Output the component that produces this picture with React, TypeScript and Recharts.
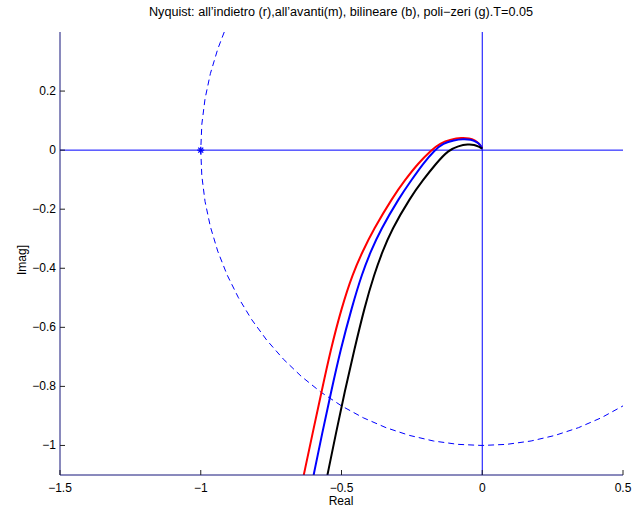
import { ComposedChart, Line, Scatter, XAxis, YAxis, ReferenceLine } from 'recharts';

const redCurve = [
  { x: -0.634, y: -1.1 }, { x: -0.603, y: -0.96 }, { x: -0.571, y: -0.819 }, { x: -0.539, y: -0.678 },
  { x: -0.499, y: -0.531 }, { x: -0.46, y: -0.418 }, { x: -0.426, y: -0.345 }, { x: -0.388, y: -0.271 },
  { x: -0.317, y: -0.158 }, { x: -0.275, y: -0.102 }, { x: -0.228, y: -0.045 }, { x: -0.181, y: 0 },
  { x: -0.151, y: 0.023 }, { x: -0.11, y: 0.037 }, { x: -0.074, y: 0.042 }, { x: -0.045, y: 0.04 },
  { x: -0.027, y: 0.034 }, { x: -0.01, y: 0.022 }, { x: 0, y: 0.006 },
];
const blueCurve = [
  { x: -0.599, y: -1.1 }, { x: -0.569, y: -0.96 }, { x: -0.537, y: -0.819 }, { x: -0.504, y: -0.678 },
  { x: -0.463, y: -0.531 }, { x: -0.427, y: -0.418 }, { x: -0.397, y: -0.345 }, { x: -0.362, y: -0.271 },
  { x: -0.293, y: -0.158 }, { x: -0.252, y: -0.102 }, { x: -0.21, y: -0.045 }, { x: -0.169, y: 0 },
  { x: -0.139, y: 0.023 }, { x: -0.1, y: 0.034 }, { x: -0.068, y: 0.038 }, { x: -0.04, y: 0.036 },
  { x: -0.021, y: 0.028 }, { x: -0.007, y: 0.018 }, { x: 0, y: 0.005 },
];
const blackCurve = [
  { x: -0.55, y: -1.1 }, { x: -0.52, y: -0.96 }, { x: -0.489, y: -0.819 }, { x: -0.455, y: -0.678 },
  { x: -0.418, y: -0.531 }, { x: -0.383, y: -0.418 }, { x: -0.355, y: -0.345 }, { x: -0.323, y: -0.271 },
  { x: -0.254, y: -0.158 }, { x: -0.211, y: -0.102 }, { x: -0.164, y: -0.045 }, { x: -0.12, y: 0 },
  { x: -0.085, y: 0.014 }, { x: -0.05, y: 0.02 }, { x: -0.028, y: 0.018 }, { x: -0.012, y: 0.012 },
  { x: 0, y: 0.005 },
];
// unit circle, visible part
const unitCircle = [
  { x: -0.9165, y: 0.4 }, { x: -0.9397, y: 0.342 }, { x: -0.9659, y: 0.2588 }, { x: -0.9848, y: 0.1736 },
  { x: -0.9962, y: 0.0872 }, { x: -1, y: 0 }, { x: -0.9962, y: -0.0872 }, { x: -0.9848, y: -0.1736 },
  { x: -0.9659, y: -0.2588 }, { x: -0.9397, y: -0.342 }, { x: -0.9063, y: -0.4226 }, { x: -0.866, y: -0.5 },
  { x: -0.8192, y: -0.5736 }, { x: -0.766, y: -0.6428 }, { x: -0.7071, y: -0.7071 }, { x: -0.6428, y: -0.766 },
  { x: -0.5736, y: -0.8192 }, { x: -0.5, y: -0.866 }, { x: -0.4226, y: -0.9063 }, { x: -0.342, y: -0.9397 },
  { x: -0.2588, y: -0.9659 }, { x: -0.1736, y: -0.9848 }, { x: -0.0872, y: -0.9962 }, { x: 0, y: -1 },
  { x: 0.0872, y: -0.9962 }, { x: 0.1736, y: -0.9848 }, { x: 0.2588, y: -0.9659 }, { x: 0.342, y: -0.9397 },
  { x: 0.4226, y: -0.9063 }, { x: 0.5, y: -0.866 },
];
const criticalPoint = [{ x: -1, y: 0 }];

const xTicks = [-1.5, -1, -0.5, 0, 0.5];
const yTicks = [-1, -0.8, -0.6, -0.4, -0.2, 0, 0.2];

const FONT = '"Liberation Sans", Arial, Helvetica, sans-serif';
const BOX = '#14147a';
const TICK_MARGIN = 6;

const fmt = (v: number) => String(v).replace('-', '\u2212');

const BottomTick = (props: any) => {
  const { x, y, payload } = props;
  const ay = y - TICK_MARGIN;
  return (
    <g>
      <line x1={x} x2={x} y1={ay} y2={ay - 5} stroke="#222" />
      <text x={x} y={ay + 17} textAnchor="middle" fontSize={12} fontFamily={FONT} fill="#000">
        {fmt(payload.value)}
      </text>
    </g>
  );
};
const LeftTick = (props: any) => {
  const { x, y, payload } = props;
  const ax = x + TICK_MARGIN;
  return (
    <g>
      <line x1={ax} x2={ax + 5} y1={y} y2={y} stroke="#222" />
      <text x={ax - 4} y={y + 4} textAnchor="end" fontSize={12} fontFamily={FONT} fill="#000">
        {fmt(payload.value)}
      </text>
    </g>
  );
};
const TopTick = (props: any) => {
  const { x, y } = props;
  const ay = y + TICK_MARGIN;
  return <line x1={x} x2={x} y1={ay} y2={ay + 5} stroke="#222" />;
};
const RightTick = (props: any) => {
  const { x, y } = props;
  const ax = x - TICK_MARGIN;
  return <line x1={ax} x2={ax - 5} y1={y} y2={y} stroke="#222" />;
};

const Asterisk = (props: any) => {
  const { cx, cy } = props;
  const r = 3.5;
  const d = r * 0.707;
  return (
    <g stroke="#0000ff" strokeWidth={1.3}>
      <line x1={cx - r} x2={cx + r} y1={cy} y2={cy} />
      <line x1={cx} x2={cx} y1={cy - r} y2={cy + r} />
      <line x1={cx - d} x2={cx + d} y1={cy - d} y2={cy + d} />
      <line x1={cx - d} x2={cx + d} y1={cy + d} y2={cy - d} />
    </g>
  );
};

export default function App() {
  return (
    <div style={{ position: 'fixed', left: 0, top: 0, width: 644, height: 508, background: '#fff' }}>
      <ComposedChart width={644} height={508} margin={{ top: 32, right: 21, bottom: 0, left: 0 }}>
        <XAxis
          type="number"
          dataKey="x"
          domain={[-1.5, 0.5]}
          ticks={xTicks}
          allowDataOverflow
          height={33}
          tickSize={0}
          tickMargin={TICK_MARGIN}
          tick={<BottomTick />}
          axisLine={{ stroke: BOX }}
        />
        <XAxis
          xAxisId="top"
          orientation="top"
          type="number"
          domain={[-1.5, 0.5]}
          ticks={xTicks}
          allowDataOverflow
          height={0}
          tickSize={0}
          tickMargin={TICK_MARGIN}
          tick={<TopTick />}
          axisLine={{ stroke: BOX }}
        />
        <YAxis
          type="number"
          dataKey="y"
          domain={[-1.1, 0.4]}
          ticks={yTicks}
          allowDataOverflow
          width={60}
          tickSize={0}
          tickMargin={TICK_MARGIN}
          tick={<LeftTick />}
          axisLine={{ stroke: BOX }}
        />
        <YAxis
          yAxisId="right"
          orientation="right"
          type="number"
          domain={[-1.1, 0.4]}
          ticks={yTicks}
          allowDataOverflow
          width={0}
          tickSize={0}
          tickMargin={TICK_MARGIN}
          tick={<RightTick />}
          axisLine={{ stroke: BOX }}
        />
        <ReferenceLine x={0} stroke="#0000ff" strokeWidth={1} />
        <ReferenceLine y={0} stroke="#0000ff" strokeWidth={1} />
        <Line data={unitCircle} dataKey="y" type="linear" stroke="#0000ff" strokeWidth={1} strokeDasharray="6 4" dot={false} isAnimationActive={false} />
        <Line data={redCurve} dataKey="y" type="basis" stroke="#ff0000" strokeWidth={2} dot={false} isAnimationActive={false} />
        <Line data={blueCurve} dataKey="y" type="basis" stroke="#0000ff" strokeWidth={2} dot={false} isAnimationActive={false} />
        <Line data={blackCurve} dataKey="y" type="basis" stroke="#000000" strokeWidth={2} dot={false} isAnimationActive={false} />
        <Scatter data={criticalPoint} dataKey="y" shape={<Asterisk />} isAnimationActive={false} />
      </ComposedChart>
      <svg width={644} height={508} style={{ position: 'absolute', left: 0, top: 0, pointerEvents: 'none' }}>
        <text x={341} y={16} textAnchor="middle" fontSize={12} fontFamily={FONT} fill="#000" textLength={384} lengthAdjust="spacingAndGlyphs">
          Nyquist: all’indietro (r),all’avanti(m), bilineare (b), poli−zeri (g).T=0.05
        </text>
        <text x={341} y={505} textAnchor="middle" fontSize={12} fontFamily={FONT} fill="#000">
          Real
        </text>
        <text x={26} y={260} textAnchor="middle" fontSize={12} fontFamily={FONT} fill="#000" transform="rotate(-90 26 260)">
          Imag]
        </text>
      </svg>
    </div>
  );
}
